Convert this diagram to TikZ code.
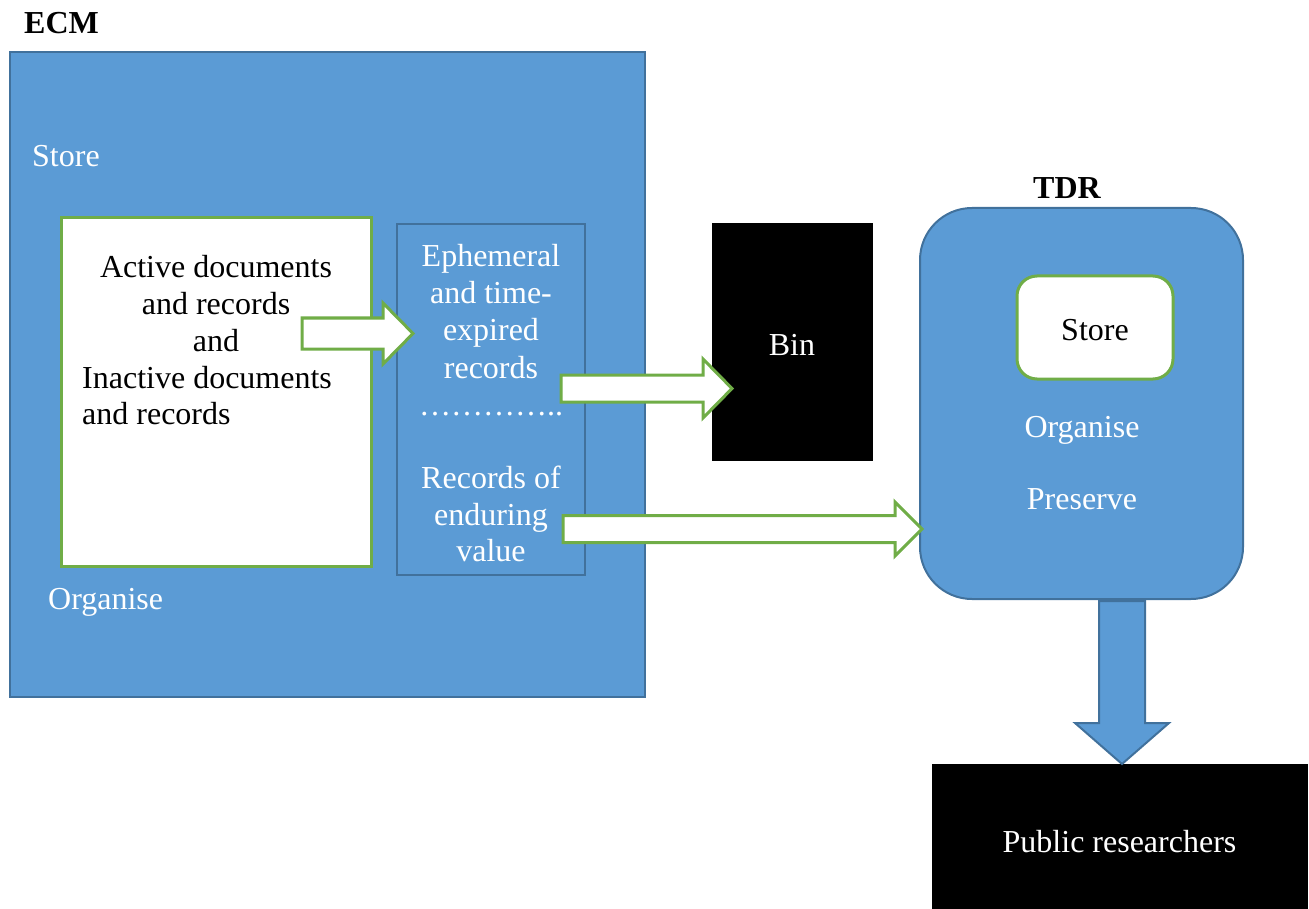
\documentclass[tikz,border=0pt]{standalone}
\usepackage{fontspec}
\setmainfont{Liberation Serif}
\definecolor{boxblue}{HTML}{5B9BD5}
\definecolor{blueedge}{HTML}{41719C}
\definecolor{arrgreen}{HTML}{70AD47}
\begin{document}
\begin{tikzpicture}[x=1pt,y=-1pt,
  every node/.style={font=\fontsize{32}{37}\selectfont, inner sep=0pt, text height=28pt, text depth=4pt},
  bluebox/.style={draw=blueedge, fill=boxblue, line width=2pt},
  whitebox/.style={draw=arrgreen, fill=white, line width=3pt},
  blackbox/.style={draw=black, fill=black},
  blockarrow/.style={draw=arrgreen, fill=white, line width=3pt, line join=miter},
  bluearrow/.style={draw=blueedge, fill=boxblue, line width=2pt, line join=miter},
  wtext/.style={text=white},
  btext/.style={text=black}]
\useasboundingbox (0,0) rectangle (1309,909);
% ECM
\node[btext, anchor=west, font=\fontsize{32}{37}\selectfont\bfseries] (ecmlabel) at (24,22) {ECM};
\node[bluebox, minimum width=635pt, minimum height=645pt] (ecm) at (327.5,374.5) {};
\node[wtext, anchor=west] (store1) at (32,155) {Store};
\node[wtext, anchor=west] (org1) at (48,597) {Organise};
\node[whitebox, minimum width=310pt, minimum height=348pt] (active) at (216,392) {};
\node[btext] (a1) at (216,266) {Active documents};
\node[btext] (a2) at (216,302) {and records};
\node[btext] (a3) at (216,339) {and};
\node[btext, anchor=west] (a4) at (82,376) {Inactive documents};
\node[btext, anchor=west] (a5) at (82,412) {and records};
\node[bluebox, line width=2.5pt, minimum width=188pt, minimum height=351pt] (eph) at (491,399.5) {};
\node[wtext] (e1) at (491,255) {Ephemeral};
\node[wtext] (e2) at (491,292) {and time-};
\node[wtext] (e3) at (491,329) {expired};
\node[wtext] (e4) at (491,366) {records};
\node[wtext] (e5) at (491,403) {…………..};
\node[wtext] (e6) at (491,476) {Records of};
\node[wtext] (e7) at (491,513) {enduring};
\node[wtext] (e8) at (491,549) {value};
% Bin
\node[blackbox, minimum width=160pt, minimum height=237pt] (bin) at (792,341.5) {};
\node[wtext] (bintext) at (792,343) {Bin};
% TDR
\node[btext, font=\fontsize{32}{37}\selectfont\bfseries] (tdrlabel) at (1067,187) {TDR};
\node[bluebox, rounded corners=52pt, minimum width=323pt, minimum height=391pt] (tdr) at (1081.5,403.5) {};
\node[whitebox, rounded corners=20pt, minimum width=156pt, minimum height=103pt] (store2) at (1095,327.5) {};
\node[btext] (storetext) at (1095,329) {Store};
\node[wtext] (org2) at (1082,425) {Organise};
\node[wtext] (pres) at (1082,497) {Preserve};
% Public researchers
\draw[blackbox] (932,764) rectangle (1307,915);
\node[wtext] (public) at (1119.5,840) {Public researchers};
% block arrows
\draw[blockarrow] (302,318) -- (383,318) -- (383,303) -- (413,333.5) -- (383,364) -- (383,349) -- (302,349) -- cycle;
\draw[blockarrow] (561,375) -- (703,375) -- (703,359) -- (732,388.5) -- (703,418) -- (703,402) -- (561,402) -- cycle;
\draw[blockarrow] (563,515.5) -- (895,515.5) -- (895,502) -- (922,529) -- (895,556) -- (895,542.5) -- (563,542.5) -- cycle;
\draw[bluearrow] (1099,601) -- (1145,601) -- (1145,723) -- (1169,723) -- (1122,764) -- (1075,723) -- (1099,723) -- cycle;
\end{tikzpicture}
\end{document}
